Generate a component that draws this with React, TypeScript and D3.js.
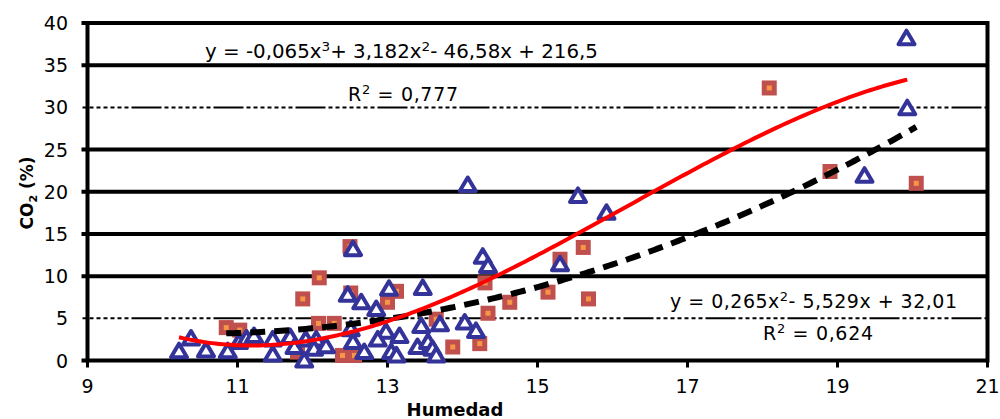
import React from 'react';
import * as d3 from 'd3';

// Axis ticks
const xTicks = [9, 11, 13, 15, 17, 19, 21];
const yTicks = [0, 5, 10, 15, 20, 25, 30, 35, 40];
const dashedGridValues = [5, 30];

// Series A (triangles)
const triangleHumedad = [
  10.22, 10.38, 10.58, 10.87, 11.02, 11.12, 11.22, 11.47, 11.47, 11.7,
  11.76, 11.89, 11.91, 12.05, 12.02, 12.18, 12.47, 12.54, 12.65, 12.85,
  13.02, 12.98, 12.51, 12.54, 12.69, 12.87, 13.47, 13.7, 14.03, 14.18,
  13.45, 13.16, 13.05, 13.12, 13.4, 13.54, 13.6, 13.65, 14.07, 15.54,
  15.92, 14.27, 14.34, 15.3, 19.36, 19.92, 19.93,
];
const triangleCO2 = [
  1.1, 2.6, 1.2, 1.1, 2.2, 2.6, 2.9, 2.5, 0.7, 2.8,
  1.6, 0.0, 2.5, 2.5, 1.4, 1.7, 7.8, 13.2, 6.9, 6.1,
  8.5, 3.4, 3.7, 2.2, 1.0, 2.5, 8.6, 4.3, 4.5, 3.5,
  4.1, 2.9, 1.0, 0.6, 1.6, 2.2, 1.4, 0.6, 20.8, 19.5,
  17.5, 12.3, 11.2, 11.4, 21.9, 38.2, 29.9,
];

// Series B (squares)
const squareHumedad = [
  10.85, 11.03, 11.87, 12.09, 12.08, 12.29, 11.8, 12.4, 12.56, 12.5,
  12.51, 13.0, 13.12, 14.3, 14.34, 13.87, 14.23, 13.65, 15.61, 15.3,
  15.14, 14.63, 15.68, 18.09, 18.9, 20.05,
];
const squareCO2 = [
  3.9, 3.6, 7.3, 9.8, 4.4, 4.4, 1.0, 0.6, 0.6, 13.5,
  8.0, 6.9, 8.2, 9.2, 5.6, 1.6, 2.0, 4.9, 13.4, 12.0,
  8.1, 6.9, 7.3, 32.3, 22.4, 21.0,
];

// Trendline coefficients, highest power first
const cubicCoef = [-0.06549, 3.18151, -46.5849, 216.451];
const quadCoef = [0.265, -5.529, 32.01];

const W = 1000;
const H = 419;
const FONT = "'DejaVu Sans', Verdana, sans-serif";

const evalPoly = (coef: number[], x: number) => coef.reduce((acc, c) => acc * x + c, 0);

export default function App() {
  const x = d3.scaleLinear().domain([9, 21]).range([87.5, 987.5]);
  const y = d3.scaleLinear().domain([0, 40]).range([360.5, 23]);

  const tri = triangleHumedad.map((h, i) => ({ h, c: triangleCO2[i] }));
  const sq = squareHumedad.map((h, i) => ({ h, c: squareCO2[i] }));

  const line = d3
    .line<number[]>()
    .x((d) => x(d[0]))
    .y((d) => y(d[1]));

  const trend = (coef: number[], xs: number[]) => {
    const [lo, hi] = d3.extent(xs) as [number, number];
    const n = 200;
    const pts = d3.range(n + 1).map((i) => {
      const xv = lo + ((hi - lo) * i) / n;
      return [xv, evalPoly(coef, xv)];
    });
    return line(pts) || '';
  };

  const redPath = trend(cubicCoef, triangleHumedad);
  const blackPath = trend(quadCoef, squareHumedad);

  const left = x(9);
  const right = x(21);

  return (
    <svg
      width={W}
      height={H}
      style={{ position: 'absolute', left: 0, top: 0, background: '#fff' }}
      fontFamily={FONT}
    >
      <rect width={W} height={H} fill="#fff" />

      {/* horizontal grid */}
      {yTicks.map((t) =>
        dashedGridValues.includes(t) ? (
          <line
            key={t}
            x1={left - 5}
            x2={right}
            y1={y(t)}
            y2={y(t)}
            stroke="#000"
            strokeWidth={2}
            strokeDasharray="4 3 4 3 4 3 4 3 4 3 4 3 4 3 30 3"
          />
        ) : (
          <line key={t} x1={left - 6} x2={right} y1={y(t)} y2={y(t)} stroke="#000" strokeWidth={4} />
        )
      )}

      {/* frame */}
      <line x1={left} x2={left} y1={y(40) - 2} y2={y(0) + 2} stroke="#000" strokeWidth={4} />
      <line x1={right} x2={right} y1={y(40) - 2} y2={y(0) + 2} stroke="#000" strokeWidth={4} />
      {xTicks.map((t) => (
        <line key={t} x1={x(t)} x2={x(t)} y1={y(0)} y2={y(0) + 7} stroke="#000" strokeWidth={3} />
      ))}

      {/* y tick labels */}
      {yTicks.map((t) => (
        <text key={t} x={68} y={y(t) + 7} textAnchor="end" fontSize={19} fill="#000">
          {t}
        </text>
      ))}
      {/* x tick labels */}
      {xTicks.map((t) => (
        <text key={t} x={x(t)} y={393} textAnchor="middle" fontSize={19} fill="#000">
          {t}
        </text>
      ))}

      {/* axis titles */}
      <text x={455} y={416} textAnchor="middle" fontSize={18} fontWeight="bold" fill="#000">
        Humedad
      </text>
      <text
        transform="translate(33,193) rotate(-90)"
        textAnchor="middle"
        fontSize={17}
        fontWeight="bold"
        fill="#000"
      >
        CO<tspan fontSize={11} dy={4}>2</tspan>
        <tspan dy={-4}> (%)</tspan>
      </text>

      {/* squares */}
      {sq.map((d, i) => (
        <rect
          key={'s' + i}
          x={x(d.h) - 5}
          y={y(d.c) - 5}
          width={10}
          height={10}
          fill="#F79646"
          stroke="#C0504D"
          strokeWidth={5}
        />
      ))}

      {/* triangles */}
      {tri.map((d, i) => {
        const cx = x(d.h);
        const cy = y(d.c);
        return (
          <path
            key={'t' + i}
            d={`M${cx},${cy - 7.5}L${cx + 8},${cy + 6}L${cx - 8},${cy + 6}Z`}
            fill="#fff"
            stroke="#333399"
            strokeWidth={4}
            strokeLinejoin="round"
          />
        );
      })}

      {/* trendlines */}
      <path d={blackPath} fill="none" stroke="#000" strokeWidth={6} strokeDasharray="15 9" />
      <path d={redPath} fill="none" stroke="#FF0000" strokeWidth={4} />

      {/* equations */}
      <text x={205} y={58} fontSize={19} fill="#000" textLength={393} lengthAdjust="spacingAndGlyphs">
        y = -0,065x<tspan fontSize={13} dy={-7}>3</tspan>
        <tspan dy={7}>+ 3,182x</tspan>
        <tspan fontSize={13} dy={-7}>2</tspan>
        <tspan dy={7}>- 46,58x + 216,5</tspan>
      </text>
      <text x={348} y={101} fontSize={19} fill="#000" textLength={110} lengthAdjust="spacing">
        R<tspan fontSize={13} dy={-7}>2</tspan>
        <tspan dy={7}> = 0,777</tspan>
      </text>
      <text x={670} y={308} fontSize={19} fill="#000" textLength={287} lengthAdjust="spacing">
        y = 0,265x<tspan fontSize={13} dy={-7}>2</tspan>
        <tspan dy={7}>- 5,529x + 32,01</tspan>
      </text>
      <text x={763} y={340} fontSize={19} fill="#000" textLength={110} lengthAdjust="spacing">
        R<tspan fontSize={13} dy={-7}>2</tspan>
        <tspan dy={7}> = 0,624</tspan>
      </text>
    </svg>
  );
}
